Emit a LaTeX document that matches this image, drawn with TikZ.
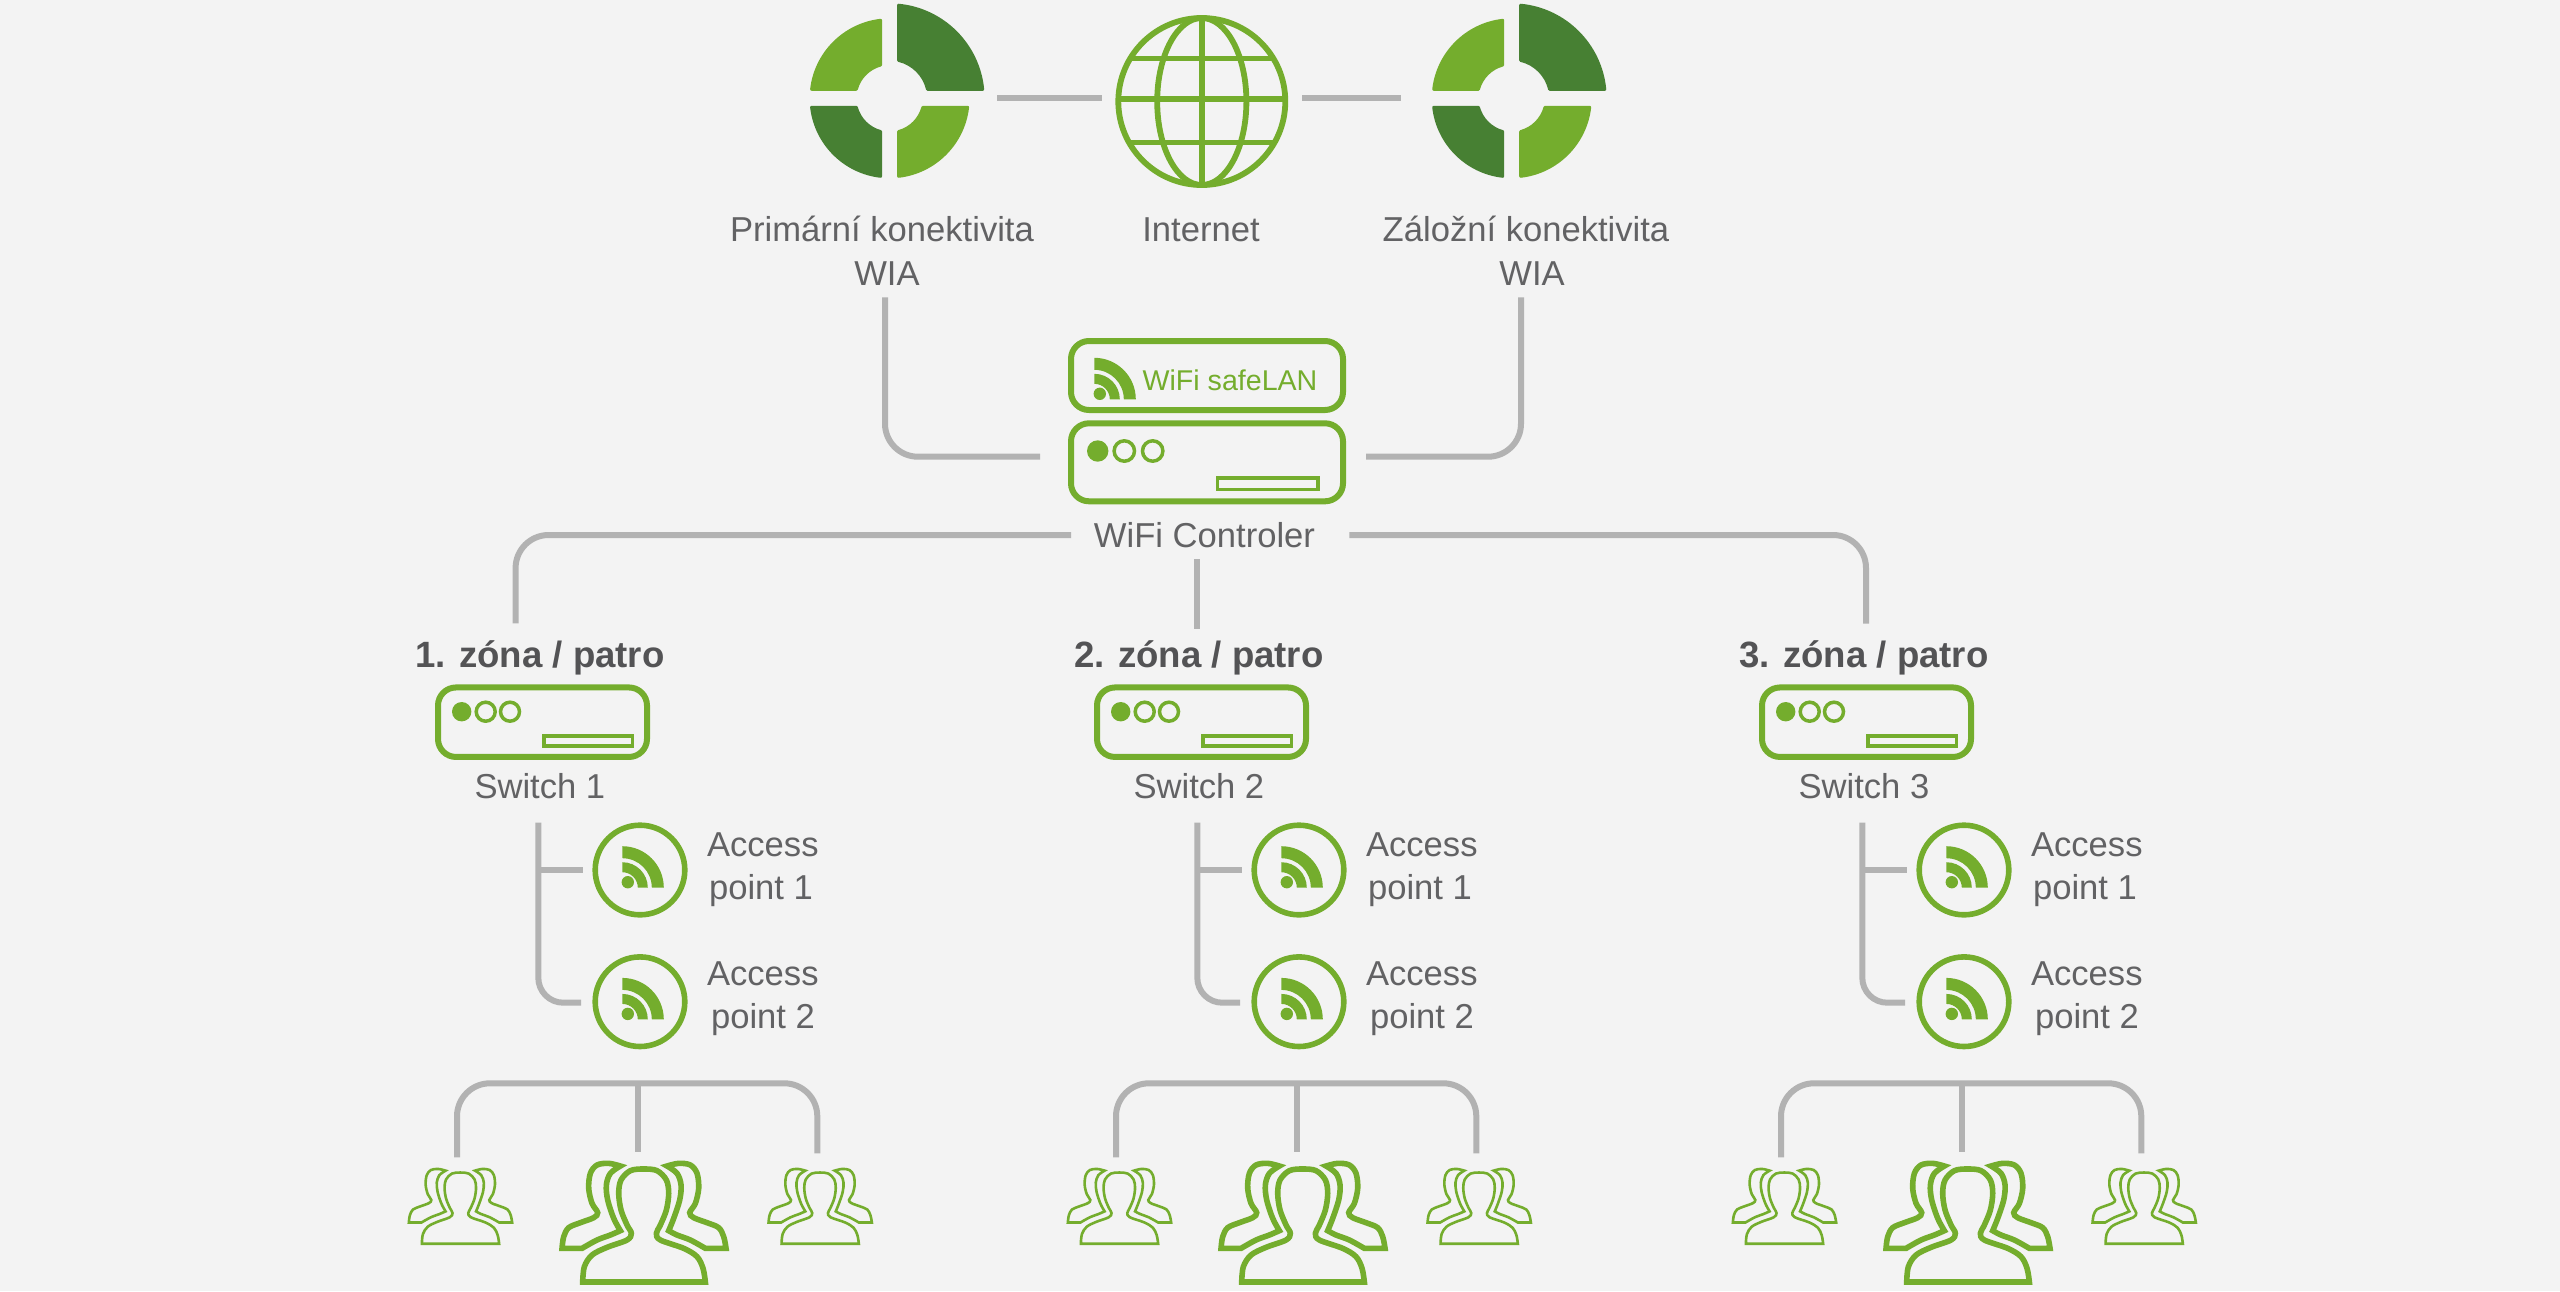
\documentclass[tikz,border=0pt]{standalone}
\usepackage{fontspec}
\setmainfont{Liberation Sans}
\definecolor{bgc}{HTML}{F3F3F3}
\definecolor{grn}{HTML}{74AD2D}
\definecolor{dgrn}{HTML}{478033}
\definecolor{lineg}{HTML}{B2B2B2}
\definecolor{txtc}{HTML}{626264}
\tikzset{
  conn/.style={draw=lineg,line width=3pt,line cap=butt,line join=round},
  elbow/.style={conn,rounded corners=16.5pt},
  outline/.style={draw=grn,line width=3pt,rounded corners=9pt},
  slot/.style={draw=grn,line width=1.75pt},
  lamp/.style={draw=grn,line width=1.75pt},
  iconbox/.style={inner sep=0pt,outer sep=0pt,draw=none},
  lbl/.style={inner sep=0pt,outer sep=0pt,anchor=base,text=txtc,font=\fontsize{17.3pt}{20pt}\selectfont},
  bold/.style={lbl,text=txtc!85!black,font=\fontsize{18.3pt}{20pt}\selectfont\bfseries},
}
% quadrant life buoy icon
\newcommand{\buoy}[1]{%
  \begin{scope}[shift={(#1)},line width=1.5pt,line join=round]
    \filldraw[fill=dgrn,draw=dgrn] (-5.5:93.5) arc[start angle=-5.5,end angle=-84.5,radius=93.5] -- (-76.7:39) arc[start angle=-76.7,end angle=-13.3,radius=39] -- cycle;
    \filldraw[fill=grn,draw=grn] (-173.4:78.5) arc[start angle=-173.4,end angle=-96.6,radius=78.5] -- (-105.1:34.5) arc[start angle=-105.1,end angle=-164.9,radius=34.5] -- cycle;
    \filldraw[fill=dgrn,draw=dgrn] (173.4:78.5) arc[start angle=173.4,end angle=96.6,radius=78.5] -- (105.1:34.5) arc[start angle=105.1,end angle=164.9,radius=34.5] -- cycle;
    \filldraw[fill=grn,draw=grn] (6.6:78.5) arc[start angle=6.6,end angle=83.4,radius=78.5] -- (74.9:34.5) arc[start angle=74.9,end angle=15.1,radius=34.5] -- cycle;
  \end{scope}}
% wifi glyph, origin at the centre of its arcs
\newcommand{\wifi}[1]{%
  \begin{scope}[shift={(#1)}]
    \fill[grn] (5.5,-5.5) circle[radius=6.2];
    \fill[grn] (15.5,0) -- (25.5,0) arc[start angle=0,end angle=-90,radius=25.5] -- (0,-15.5) arc[start angle=-90,end angle=0,radius=15.5] -- cycle;
    \fill[grn] (29.5,0) -- (41.5,0) arc[start angle=0,end angle=-90,radius=41.5] -- (0,-29.5) arc[start angle=-90,end angle=0,radius=29.5] -- cycle;
  \end{scope}}
% group of three people, origin at bottom centre of the front figure
\newcommand{\people}[3]{%
  \begin{scope}[shift={(#1)},scale=#2/3,shift={(-730,-666)},draw=grn,line width=#3,line join=miter]
    \draw plot[smooth,tension=.55] coordinates {(660,318)(625,310)(590,315)(570,340)(565,385)(575,430)(592,458)(580,473)(540,488)(505,503)(490,530)(485,565)} -- (545,565) -- plot[smooth,tension=.55] coordinates {(545,565)(590,540)(630,525)(660,512)} -- plot[smooth,tension=.55] coordinates {(660,512)(640,475)(622,420)(618,375)(630,340)(660,318)} -- cycle;
    \draw plot[smooth,tension=.55] coordinates {(800,318)(835,310)(870,315)(890,340)(895,385)(885,430)(868,458)(880,473)(920,488)(955,503)(970,530)(977,565)} -- (915,565) -- plot[smooth,tension=.55] coordinates {(915,565)(870,540)(830,525)(805,512)} -- plot[smooth,tension=.55] coordinates {(805,512)(820,475)(838,420)(842,375)(830,340)(800,318)} -- cycle;
    \draw plot[smooth,tension=.55] coordinates {(547,666)(552,620)(575,585)(620,562)(680,540)(693,520)(680,495)(662,450)(655,400)(662,360)(690,332)(730,327)(770,332)(798,360)(805,400)(798,450)(780,495)(768,520)(780,540)(850,565)(890,590)(908,625)(915,666)} -- cycle;
  \end{scope}}
\begin{document}
\begin{tikzpicture}[x=.5pt,y=-.5pt]
\useasboundingbox (0,0) rectangle (2560,1291);
\fill[bgc] (0,0) rectangle (2560,1291);

% ---- top row
\node[iconbox,minimum width=95pt,minimum height=95pt] (buoyL) at (889.6,97.7) {};
\node[iconbox,minimum width=95pt,minimum height=95pt] (buoyR) at (1511.7,97.7) {};
\node[iconbox,minimum width=86.3pt,minimum height=86.3pt] (inet) at (1201.8,97.7) {};
\buoy{889.6,98.3}
\buoy{1511.7,98.3}
\begin{scope}[shift={(1201.8,101.5)},draw=grn,line width=2.9pt]
  \begin{scope}
    \clip (0,0) circle[radius=83.5];
    \draw (-90,-43) -- (90,-43);
    \draw (-90,-2.5) -- (90,-2.5);
    \draw (-90,41) -- (90,41);
  \end{scope}
  \draw (0,-83.5) -- (0,83.5);
  \draw (0,0) circle[x radius=44.6,y radius=83.5];
  \draw (0,0) circle[radius=83.5];
\end{scope}
\draw[conn,shorten <=6.2pt,shorten >=6.9pt] (buoyL.east) -- (inet.west);
\draw[conn,shorten <=7.05pt,shorten >=8pt] (inet.east) -- (buoyR.west);

\node[lbl] (lP) at (882,241.7) {Primární konektivita};
\node[lbl] (lPw) at (887,285) {WIA};
\node[lbl] (lI) at (1201,241.7) {Internet};
\node[lbl] (lZ) at (1526,241.7) {Záložní konektivita};
\node[lbl] (lZw) at (1532,285) {WIA};

% ---- controller
\node[outline,minimum width=136pt,minimum height=34.5pt,inner sep=0pt] (safe) at (1207,375.5) {};
\node[outline,minimum width=136pt,minimum height=39pt,inner sep=0pt] (ctrl) at (1207,462.3) {};
\wifi{1094.3,399.3}
\node[lbl,text=grn,font=\fontsize{14.3pt}{16pt}\selectfont] (lS) at (1230,390.7) {WiFi safeLAN};
\fill[grn] (1097.7,451) circle[radius=10.7];
\draw[lamp] (1124.3,451) circle[radius=10.2];
\draw[lamp] (1152.7,451) circle[radius=10.2];
\draw[slot] (1217.5,478) rectangle (1318,489.5);
\node[lbl] (lC) at (1204.5,547) {WiFi Controler};

\coordinate (pTop) at (885,297.3);
\coordinate (pEnd) at (1040,456.7);
\coordinate (zTop) at (1521,297.3);
\coordinate (zEnd) at (1366,456.7);
\draw[elbow] (pTop) |- (pEnd);
\draw[elbow] (zTop) |- (zEnd);

\coordinate (hL) at (1071,535);
\coordinate (hR) at (1349.3,535);
\coordinate (vL) at (515.6,623.3);
\coordinate (vR) at (1866,623.7);
\coordinate (vCt) at (1196.7,559.3);
\coordinate (vCb) at (1196.7,629.3);
\draw[elbow] (hL) -| (vL);
\draw[elbow] (hR) -| (vR);
\draw[conn] (vCt) -- (vCb);

% ---- three zones
\foreach \i/\off in {1/0,2/659,3/1324}{
\begin{scope}[xshift=\off*.5pt]
  \node[bold] (z\i) at (539.8,667.3) {\i. zóna / patro};
  \node[outline,minimum width=104.5pt,minimum height=34.75pt,inner sep=0pt] (sw\i) at (542.5,722.2) {};
  \fill[grn] (461.7,711.7) circle[radius=9.7];
  \draw[lamp] (485.7,711.7) circle[radius=9.5];
  \draw[lamp] (510,711.7) circle[radius=9.5];
  \draw[slot] (544.2,735.8) rectangle (632.5,745.8);
  \node[lbl,anchor=base west] (ls\i) at (474.5,798.3) {Switch \i};

  \coordinate (stem\i) at (538.3,822.7);
  \node[iconbox,minimum size=47.3pt,circle] (apa\i) at (640,870) {};
  \node[iconbox,minimum size=47.3pt,circle] (apb\i) at (640,1001.7) {};
  \draw[grn,line width=2.8pt] (640,870) circle[radius=44.8];
  \draw[grn,line width=2.8pt] (640,1001.7) circle[radius=44.8];
  \wifi{622.3,887.7}
  \wifi{622.3,1019.4}
  \draw[conn,rounded corners=12.5pt,shorten >=5.85pt] (stem\i) |- ([yshift=-.5pt]apb\i.west);
  \draw[conn,shorten >=5pt] (stem\i |- apa\i.west) -- (apa\i.west);
  \node[lbl] (ta\i) at (762.8,856.7) {Access};
  \node[lbl] (tb\i) at (761,899.3) {point 1};
  \node[lbl] (tc\i) at (762.8,985.3) {Access};
  \node[lbl] (td\i) at (763,1028.3) {point 2};

  \coordinate (hub\i) at (637.7,1083.3);
  \node[iconbox,minimum size=0pt] (gL\i) at (457,1157.3) {};
  \node[iconbox,minimum size=0pt] (gC\i) at (637.7,1152) {};
  \node[iconbox,minimum size=0pt] (gR\i) at (817.3,1153.3) {};
  \draw[elbow] (gL\i) |- (hub\i) -| (gR\i);
  \draw[conn] (hub\i) -- (gC\i);
  \people{460.3,1243.7}{.63}{1.3pt}
  \people{643.7,1282}{1}{2.8pt}
  \people{820,1243.7}{.63}{1.3pt}
\end{scope}
}
\end{tikzpicture}
\end{document}
